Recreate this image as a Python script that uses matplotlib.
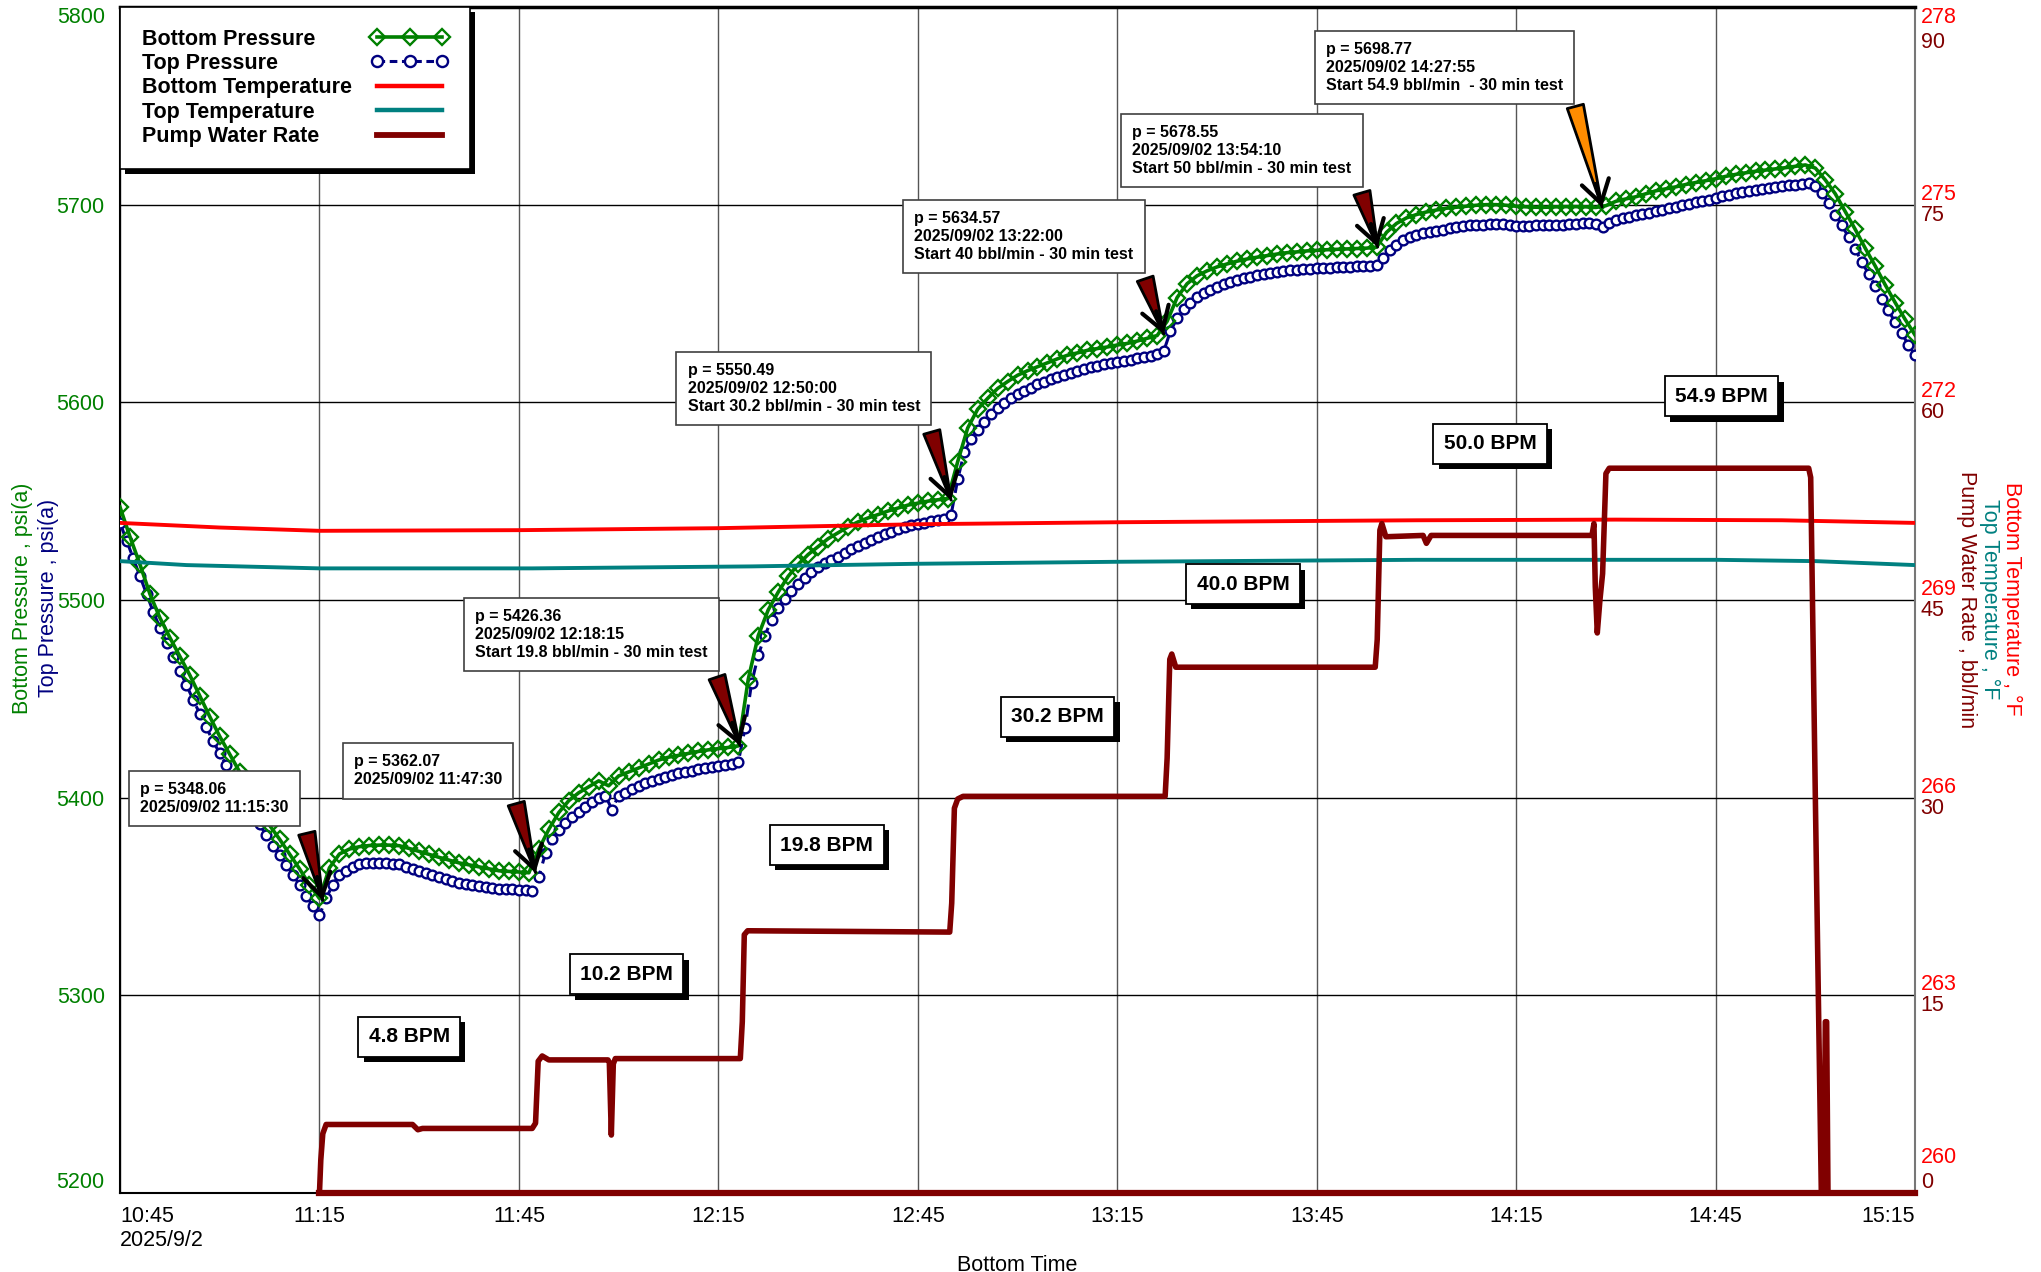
import numpy as np
import matplotlib
matplotlib.use("Agg")
import matplotlib.pyplot as plt
from matplotlib.lines import Line2D
from matplotlib.patches import FancyArrowPatch
from matplotlib import patheffects as pe
from matplotlib.transforms import offset_copy, blended_transform_factory

plt.rcParams['font.family'] = ['Liberation Sans', 'DejaVu Sans']

GREEN = '#008000'
NAVY = '#000080'
RED = '#ff0000'
TEAL = '#008080'
MAROON = '#800000'
ORANGE = '#ff8c00'

# all times are minutes after 10:45 on 2025/9/2
# bottom pressure, one reading every 1.5 min
bottom_pressure = [
    5547, 5532, 5518, 5503, 5491, 5481, 5471.5, 5462, 5451.5, 5441,
    5431, 5422, 5413, 5403, 5394.5, 5386, 5379, 5371.5, 5364, 5356,
    5349, 5364.5, 5371.5, 5374, 5375.2, 5375.8, 5376, 5376, 5375.7, 5374.3,
    5372.8, 5371.3, 5369.8, 5368.4, 5367, 5366, 5365, 5364, 5363, 5362.7,
    5362.4, 5362, 5374, 5384, 5392.5, 5398.5, 5402.5, 5405.5, 5408.5, 5406,
    5411, 5413, 5415, 5417, 5419, 5420.5, 5421.4, 5422.4, 5423.4, 5424.2,
    5424.8, 5425.4, 5426.2, 5460, 5482, 5495, 5504, 5512, 5518, 5523,
    5527, 5531, 5534, 5537, 5539.5, 5541.5, 5543.2, 5545, 5546.5, 5548,
    5549, 5550, 5550.7, 5551.3, 5570, 5587, 5596.5, 5602, 5607, 5610.5,
    5613.7, 5616, 5618, 5620, 5622, 5623.8, 5625, 5626.3, 5627.2, 5628,
    5629, 5629.8, 5631, 5632.4, 5633.8, 5641, 5653, 5660, 5664, 5666.5,
    5668.5, 5670, 5671.4, 5672.5, 5673.4, 5674.2, 5675, 5675.7, 5676.1, 5676.6,
    5676.9, 5677.2, 5677.4, 5677.6, 5677.8, 5678, 5678.5, 5686, 5690.5, 5693.3,
    5695, 5696.3, 5697.3, 5698.2, 5698.7, 5699.2, 5699.7, 5700, 5700, 5699.7,
    5699.2, 5698.9, 5698.7, 5698.7, 5698.9, 5699, 5699, 5698.9, 5698.6, 5699.5,
    5701.7, 5702.9, 5704, 5705.5, 5707, 5708, 5709, 5710.2, 5711.2, 5712.1,
    5713.1, 5714.3, 5715.3, 5716.1, 5716.9, 5717.5, 5718.1, 5718.7, 5719.4, 5720.1,
    5718.5, 5712.5, 5705.5, 5696.5, 5687.5, 5678, 5669, 5659.5, 5650.5, 5642,
    5634,
]
bottom_time = np.arange(len(bottom_pressure)) * 1.5

# top pressure, one reading every minute
top_pressure = [
    5539, 5530, 5521, 5512, 5503, 5494, 5486, 5478.5, 5471, 5464, 5457, 5449.5, 5442.5, 5435.5, 5428.5,
    5422.5, 5416.5, 5410.5, 5404.5, 5398, 5392, 5386.5, 5381, 5375.5, 5371, 5366, 5361, 5356, 5350.5, 5345,
    5340.5, 5349, 5356, 5361, 5363, 5365, 5366.2, 5366.7, 5367, 5367, 5366.8, 5366.6, 5366.2, 5365, 5364,
    5362.8, 5361.8, 5360.8, 5359.8, 5358.8, 5357.8, 5357, 5356.5, 5356, 5355.5, 5355, 5354.5, 5354, 5353.8, 5353.6,
    5353.4, 5353.2, 5353, 5360, 5372, 5379, 5383.5, 5387, 5390, 5393, 5395.5, 5398, 5400, 5401, 5394,
    5401, 5402.5, 5404.5, 5406, 5407.3, 5408.5, 5409.6, 5410.6, 5411.5, 5412.3, 5413, 5413.7, 5414.3, 5415, 5415.5,
    5416, 5416.5, 5417, 5418, 5435, 5458, 5472, 5482, 5490, 5496, 5500.5, 5504.5, 5508, 5511, 5514,
    5516.5, 5518.5, 5520.3, 5522, 5524, 5526, 5527.5, 5529, 5530.5, 5532, 5533.4, 5534.6, 5535.8, 5537, 5537.8,
    5538.5, 5539.2, 5539.9, 5540.6, 5541.2, 5543, 5561, 5575, 5581.5, 5586, 5590, 5594, 5597, 5599.5, 5602,
    5604, 5605.8, 5607.5, 5609.2, 5610.5, 5611.7, 5612.8, 5614, 5615, 5616, 5617, 5617.7, 5618.4, 5619.2, 5619.8,
    5620.4, 5621, 5621.5, 5622.2, 5622.9, 5623.6, 5624.3, 5626, 5636, 5642.5, 5647, 5650.5, 5653.4, 5655.3, 5657,
    5658.5, 5659.8, 5660.8, 5661.8, 5662.7, 5663.5, 5664.3, 5665, 5665.5, 5666, 5666.5, 5666.8, 5667.1, 5667.4, 5667.6,
    5667.8, 5668, 5668.2, 5668.4, 5668.5, 5668.6, 5668.8, 5669, 5669.1, 5669.3, 5673, 5677, 5679.7, 5682, 5683.5,
    5684.7, 5685.5, 5686.3, 5686.8, 5687.4, 5688, 5688.5, 5689, 5689.5, 5689.7, 5689.9, 5690.1, 5690.1, 5690, 5689.6,
    5689.3, 5689.3, 5689.4, 5689.5, 5689.5, 5689.6, 5689.7, 5689.8, 5690, 5690.2, 5690.5, 5690.7, 5690, 5688.8, 5690.8,
    5692.4, 5693.2, 5693.9, 5694.6, 5695.3, 5696, 5696.7, 5697.4, 5698.1, 5698.8, 5699.6, 5700.4, 5701.1, 5701.8, 5702.6,
    5703.4, 5704.2, 5705, 5705.7, 5706.3, 5707, 5707.4, 5707.9, 5708.4, 5708.9, 5709.3, 5709.8, 5710.2, 5710.6, 5711,
    5709.5, 5706, 5701, 5695, 5689.5, 5683.5, 5677.5, 5671, 5665, 5659, 5652.5, 5646.5, 5640.5, 5635, 5629,
    5624,
]
top_time = np.arange(len(top_pressure)) * 1.0

temp_time = [0, 15, 30, 60, 90, 120, 150, 195, 225, 250, 270]
bottom_temp = [270.17, 270.10, 270.05, 270.06, 270.09, 270.15, 270.18, 270.21, 270.22, 270.21, 270.17]
top_temp_time = [0, 10, 30, 62, 95, 120, 150, 195, 240, 255, 270]
top_temp = [269.59, 269.53, 269.48, 269.48, 269.51, 269.55, 269.58, 269.61, 269.61, 269.59, 269.53]

rate_time = [30, 30.2, 30.5, 31, 44, 44.8, 45.5, 62, 62.5, 62.9, 63.5, 64.5,
             73.4, 73.6, 73.9, 74.2, 74.5, 93.3, 93.6, 93.9, 94.4,
             124.8, 125.1, 125.5, 126, 126.8, 157.2, 157.5, 157.9, 158.2, 158.8,
             188.8, 189.1, 189.5, 189.8, 190.4, 196, 196.5, 197.2,
             221.4, 221.7, 221.9, 222.2, 222.6, 223, 223.5, 224,
             254, 254.3, 255, 255.9, 256.3, 256.5, 256.7, 256.9, 270]
rate = [0, 2.5, 4.5, 5.2, 5.2, 4.8, 4.9, 4.9, 5.3, 10.0, 10.4, 10.1,
        10.1, 9.9, 4.4, 9.8, 10.2, 10.2, 13, 19.6, 19.9,
        19.8, 22, 29.2, 29.9, 30.1, 30.1, 33, 40.5, 40.9, 39.9,
        39.9, 42, 50.3, 50.8, 49.8, 49.9, 49.3, 49.9,
        49.9, 50.8, 46, 42.5, 45, 47, 54.6, 55.0,
        55.0, 54.3, 30, 0, 0, 13, 13, 0, 0]
rate_base_time = [30, 270]
rate_base = [0, 0]

tick_minutes = [0, 30, 60, 90, 120, 150, 180, 210, 240, 270]
tick_labels = ['10:45\n2025/9/2', '11:15', '11:45', '12:15', '12:45',
               '13:15', '13:45', '14:15', '14:45', '15:15']
pressure_ticks = [5200, 5300, 5400, 5500, 5600, 5700, 5800]
temp_ticks = [260, 263, 266, 269, 272, 275, 278]
rate_ticks = [0, 15, 30, 45, 60, 75, 90]

picks = ['p = 5348.06\n2025/09/02 11:15:30',
         'p = 5362.07\n2025/09/02 11:47:30',
         'p = 5426.36\n2025/09/02 12:18:15\nStart 19.8 bbl/min - 30 min test',
         'p = 5550.49\n2025/09/02 12:50:00\nStart 30.2 bbl/min - 30 min test',
         'p = 5634.57\n2025/09/02 13:22:00\nStart 40 bbl/min - 30 min test',
         'p = 5678.55\n2025/09/02 13:54:10\nStart 50 bbl/min - 30 min test',
         'p = 5698.77\n2025/09/02 14:27:55\nStart 54.9 bbl/min  - 30 min test']
pick_time = [30.5, 62.5, 93.25, 125.0, 157.0, 189.17, 222.92]
pick_value = [5348.06, 5362.07, 5426.36, 5550.49, 5634.57, 5678.55, 5698.77]
bpm_labels = ['4.8 BPM', '10.2 BPM', '19.8 BPM', '30.2 BPM', '40.0 BPM', '50.0 BPM', '54.9 BPM']

# layout of the call-outs (box top-left corner, arrow base)
box_corner = [(1.4, 5413.6), (33.5, 5427.5), (51.7, 5501), (83.7, 5625.5),
              (117.8, 5702.5), (150.6, 5746), (179.7, 5788)]
arrow_base = [(28.1, 5382), (59.6, 5397), (89.8, 5461), (122.1, 5585),
              (154.2, 5662.5), (186.8, 5706), (218.9, 5749.7)]
arrow_colour = [MAROON] * 6 + [ORANGE]
bpm_pos = [(43.5, 5279), (76.2, 5310.6), (106.3, 5376), (141, 5441),
           (168.9, 5508), (206.1, 5579), (240.9, 5603)]

fig = plt.figure(figsize=(20.41, 12.72), dpi=100)
ax = fig.add_axes([0.0588, 0.0621, 0.8795, 0.9324])
ax_temp = ax.twinx()
ax_rate = ax.twinx()

ax.set_xlim(0, 270)
ax.set_ylim(5200, 5800)
ax_temp.set_ylim(260, 278)
ax_rate.set_ylim(0, 90)

ax.xaxis.grid(True, color='#555555', lw=1.0)
ax.yaxis.grid(True, color='black', lw=1.0)
ax.set_axisbelow(True)

ax.plot(top_time, top_pressure, color=NAVY, lw=2.2, dashes=(4, 2.5), marker='o', ms=7,
        mfc='white', mec=NAVY, mew=1.7, zorder=3)
ax.plot(bottom_time, bottom_pressure, color=GREEN, lw=2.6, marker='D', ms=8.5,
        mfc='none', mec=GREEN, mew=1.7, zorder=4)

ax_temp.plot(temp_time, bottom_temp, color=RED, lw=2.8)
ax_temp.plot(top_temp_time, top_temp, color=TEAL, lw=2.8)
ax_rate.plot(rate_base_time, rate_base, color=MAROON, lw=4.5, clip_on=False)
ax_rate.plot(rate_time, rate, color=MAROON, lw=4.0, solid_joinstyle='round')

for a in (ax_temp, ax_rate):
    a.set_yticks([])
    for s in a.spines.values():
        s.set_visible(False)

for name, s in ax.spines.items():
    s.set_color('black')
    s.set_linewidth(1.5)
ax.spines['top'].set_linewidth(2.5)
ax.spines['right'].set_color('#777777')

ax.set_yticks(pressure_ticks)
ax.set_xticks(tick_minutes, tick_labels)
ax.tick_params(axis='both', length=0, labelsize=15.5)
ax.tick_params(axis='y', labelcolor=GREEN, pad=11)
ax.tick_params(axis='x', pad=9)
ylabels = ax.get_yticklabels()
ylabels[0].set_va('bottom')
ylabels[-1].set_va('top')
xlabels = ax.get_xticklabels()
xlabels[0].set_ha('left')
xlabels[-1].set_ha('right')

ax.set_xlabel('Bottom Time', fontsize=15.5)
ax.xaxis.set_label_coords(0.5, -0.052)

# right hand scales: temperature above, rate below each grid line
right = blended_transform_factory(ax.transAxes, ax_temp.transData)
right_rate = blended_transform_factory(ax.transAxes, ax_rate.transData)
n = len(temp_ticks)
for i, (tv, rv) in enumerate(zip(temp_ticks, rate_ticks)):
    if i == 0:
        t_va, t_dy, r_va, r_dy = 'bottom', 18, 'bottom', 0
    elif i == n - 1:
        t_va, t_dy, r_va, r_dy = 'top', 0, 'top', -18
    else:
        t_va, t_dy, r_va, r_dy = 'bottom', 0, 'top', 0
    ax_rate.text(1.0, tv, str(tv), color=RED, fontsize=15.5, ha='left', va=t_va,
                 transform=offset_copy(right, fig, x=4, y=t_dy, units='points'))
    ax_rate.text(1.0, rv, str(rv), color=MAROON, fontsize=15.5, ha='left', va=r_va,
                 transform=offset_copy(right_rate, fig, x=4, y=r_dy, units='points'))

fig.text(0.0108, 0.53, 'Bottom Pressure , psi(a)', color=GREEN, fontsize=15.5,
         rotation=90, ha='center', va='center')
fig.text(0.0240, 0.53, 'Top Pressure , psi(a)', color=NAVY, fontsize=15.5,
         rotation=90, ha='center', va='center')
fig.text(0.9855, 0.529, 'Bottom Temperature , °F', color=RED, fontsize=15.5,
         rotation=270, ha='center', va='center')
fig.text(0.9750, 0.529, 'Top Temperature , °F', color=TEAL, fontsize=15.5,
         rotation=270, ha='center', va='center')
fig.text(0.9635, 0.529, 'Pump Water Rate , bbl/min', color=MAROON, fontsize=15.5,
         rotation=270, ha='center', va='center')

shadow = [pe.SimplePatchShadow(offset=(3.8, -3.8), shadow_rgbFace='black', alpha=1.0), pe.Normal()]

# rate labels
for label, (bx, by) in zip(bpm_labels, bpm_pos):
    t = ax_rate.text(bx, by, label, transform=ax.transData, ha='center', va='center',
                     fontsize=15, fontweight='bold', zorder=6,
                     bbox=dict(boxstyle='square,pad=0.5', fc='white', ec='black', lw=1.3))
    t.get_bbox_patch().set_path_effects(shadow)

# call-outs with arrows
for text, (cx, cy), (ax0, ay0), tx, ty, col in zip(picks, box_corner, arrow_base,
                                                    pick_time, pick_value, arrow_colour):
    ax_rate.text(cx, cy, text, fontsize=11.5, fontweight='bold', ha='left', va='top',
                 linespacing=1.25, zorder=7,
                 transform=offset_copy(ax.transData, fig, x=8, y=-8, units='points'),
                 bbox=dict(boxstyle='square,pad=0.7', fc='white', ec='#404040', lw=1.2))
    wedge = FancyArrowPatch((ax0, ay0), (tx, ty), transform=ax.transData,
                            arrowstyle='wedge,tail_width=0.6,shrink_factor=0.5',
                            mutation_scale=20, fc=col, ec='black', lw=2.0,
                            shrinkA=0, shrinkB=0, zorder=8)
    ax_rate.add_patch(wedge)
    tip = ax.transData.transform((tx, ty))
    base = ax.transData.transform((ax0, ay0))
    u = (base - tip) / np.hypot(*(base - tip))
    start = ax.transData.inverted().transform(tip + u * 24)
    head = FancyArrowPatch(tuple(start), (tx, ty), transform=ax.transData,
                           arrowstyle='->,head_length=0.8,head_width=0.5',
                           mutation_scale=20, color='black', lw=3.0,
                           shrinkA=0, shrinkB=0, zorder=9)
    ax_rate.add_patch(head)

handles = [
    Line2D([], [], color=GREEN, lw=2.6, marker='D', ms=8.5, mfc='none', mec=GREEN, mew=1.7),
    Line2D([], [], color=NAVY, lw=2.2, dashes=(2.5, 1.5), marker='o', ms=8, mfc='white',
           mec=NAVY, mew=1.7),
    Line2D([], [], color=RED, lw=3.2),
    Line2D([], [], color=TEAL, lw=3.2),
    Line2D([], [], color=MAROON, lw=4.2),
]
names = ['Bottom Pressure', 'Top Pressure', 'Bottom Temperature', 'Top Temperature',
         'Pump Water Rate']
leg = ax_rate.legend(handles, names, loc='upper left', bbox_to_anchor=(0, 1),
                     bbox_transform=ax.transAxes, borderaxespad=0, markerfirst=False,
                     numpoints=3, handlelength=3.6, handletextpad=0.9, borderpad=1.0,
                     labelspacing=0.16, prop={'weight': 'bold', 'size': 15.5},
                     fancybox=False, framealpha=1, edgecolor='black')
leg.get_frame().set_linewidth(1.2)
leg.get_frame().set_path_effects(shadow)
leg.set_zorder(10)

# keep the legend labels left aligned with the samples in one column
renderer = fig.canvas.get_renderer()
column = leg._legend_handle_box.get_children()[0]
column.align = 'left'
widths = [t.get_window_extent(renderer).width for t in leg.get_texts()]
for item, w in zip(column.get_children(), widths):
    item.sep = item.sep + (max(widths) - w) * 72.0 / fig.dpi

fig.savefig('out.png', dpi=100)
